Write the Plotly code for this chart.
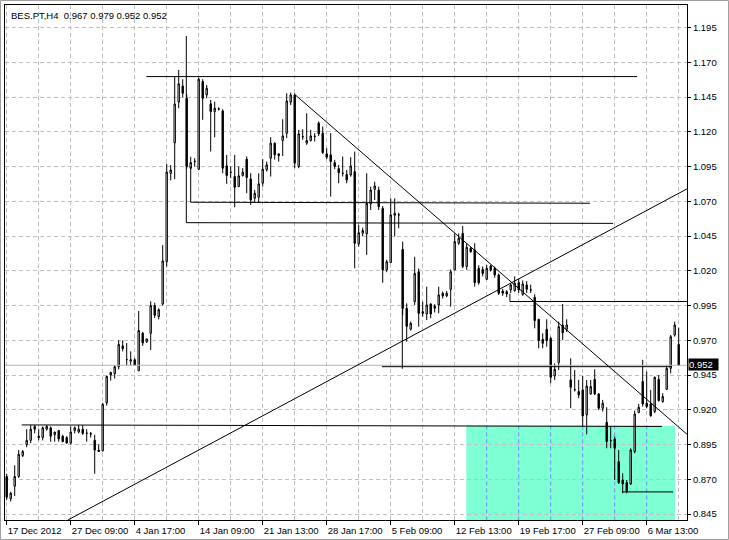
import plotly.graph_objects as go

# ---------------- data (H4 bars, BES.PT) ----------------
bar_index = list(range(169))
opens = [0.872,0.856,0.865,0.872,0.887,0.895,0.898,0.908,0.901,0.900,0.906,0.907,0.902,0.905,0.901,0.900,0.896,0.905,0.904,0.906,
         0.903,0.903,0.898,0.891,0.8905,0.925,0.945,0.946,0.951,0.966,0.956,0.955,0.956,0.948,0.975,0.969,0.975,0.995,0.987,0.996,
         1.0265,1.090,1.112,1.1413,1.1530,1.1441,1.0938,1.0985,1.0930,1.1561,1.1465,1.1401,1.1345,1.1365,1.1350,1.0955,1.0910,1.0878,1.0806,1.0885,
         1.1003,1.0861,1.0722,1.0729,1.0830,1.0926,1.1010,1.1118,1.1041,1.1137,1.1189,1.1413,1.1465,1.0950,1.1166,1.1118,1.1137,1.1166,1.1262,1.1190,
         1.1041,1.1034,1.0978,1.0935,1.0903,1.0894,1.0889,1.0913,1.0393,1.0470,1.0466,1.0681,1.0786,1.0781,1.0649,1.0206,1.0259,1.0599,1.0603,1.0354,
         0.9930,0.9780,0.9978,1.0193,0.9906,0.9889,0.9961,0.9945,0.9954,1.0038,1.0019,1.0066,1.0206,1.0398,1.0469,1.0230,1.0362,1.0350,1.0218,1.0210,
         1.0138,1.0235,1.0218,1.0170,1.0054,1.0050,1.0062,1.0057,1.0115,1.0030,1.0098,1.0063,1.0009,0.9851,0.9707,0.9779,0.9714,0.9443,0.9539,0.9810,
         0.9779,0.9415,0.9345,0.9331,0.9343,0.9163,0.9314,0.9419,0.9314,0.9211,0.9110,0.8979,0.8990,0.8827,0.8695,0.8676,0.8666,0.8899,0.9180,0.9403,
         0.9247,0.9242,0.9187,0.9419,0.9259,0.9347,0.9498,0.9738,0.967]
highs = [0.874,0.861,0.880,0.891,0.891,0.906,0.909,0.909,0.906,0.908,0.909,0.908,0.904,0.905,0.902,0.901,0.908,0.908,0.909,0.909,
         0.906,0.904,0.902,0.895,0.925,0.9445,0.947,0.952,0.970,0.970,0.968,0.962,0.957,0.991,0.976,0.971,0.998,0.997,0.993,1.0385,
         1.097,1.096,1.160,1.1645,1.1578,1.1470,1.1020,1.1010,1.1590,1.1578,1.1537,1.1429,1.1417,1.1376,1.1362,1.1034,1.0950,1.1034,1.0950,1.0938,
         1.1022,1.0902,1.0782,1.0902,1.1003,1.0986,1.1161,1.1122,1.1041,1.1290,1.1477,1.1482,1.1477,1.1214,1.1218,1.1333,1.1214,1.1190,1.1274,1.1238,
         1.1082,1.1190,1.0998,1.0962,1.1022,1.0925,1.1017,1.1057,1.0530,1.0510,1.0901,1.0805,1.0841,1.0805,1.0666,1.0280,1.0721,1.0721,1.0618,1.0410,
         0.9966,0.9835,1.0301,1.0217,0.9978,1.0086,0.9966,0.9960,1.0086,1.0050,1.0055,1.0210,1.0469,1.0469,1.0522,1.0398,1.0370,1.0398,1.0240,1.0230,
         1.0242,1.0242,1.0230,1.0181,1.0070,1.0060,1.0110,1.0160,1.0140,1.0130,1.0125,1.0100,1.0030,0.9851,0.9750,0.9851,0.9726,0.9534,0.9834,0.9961,
         0.9851,0.9570,0.9486,0.9415,0.9443,0.9415,0.9415,0.9491,0.9319,0.9271,0.9218,0.9079,0.9007,0.8911,0.8743,0.8695,0.8923,0.9194,0.9242,0.9559,
         0.9475,0.9343,0.9439,0.9450,0.9319,0.9522,0.9738,0.9834,0.979]
lows = [0.855,0.854,0.858,0.871,0.886,0.893,0.896,0.903,0.898,0.898,0.905,0.897,0.897,0.897,0.897,0.896,0.895,0.903,0.903,0.902,
        0.897,0.900,0.874,0.890,0.890,0.923,0.941,0.9425,0.949,0.962,0.952,0.952,0.952,0.948,0.966,0.968,0.963,0.986,0.985,0.995,
        1.023,1.085,1.086,1.1369,1.1448,1.0935,1.0931,1.0950,1.0925,1.1286,1.1441,1.1058,1.1160,1.1353,1.0902,1.0825,1.0866,1.0657,1.0801,1.0878,
        1.0758,1.0674,1.0693,1.0693,1.0806,1.0914,1.0878,1.1000,1.0985,1.1026,1.1154,1.1393,1.0938,1.0938,1.1142,1.1106,1.1130,1.1130,1.1170,1.1041,
        1.1003,1.0734,1.0931,1.0830,1.0878,1.0829,1.0877,1.0218,1.0374,1.0450,1.0314,1.0637,1.0709,1.0637,1.0114,1.0190,1.0254,1.0446,1.0506,0.9880,
        0.9690,0.9770,0.9954,0.9798,0.9870,0.9846,0.9858,0.9900,0.9894,1.0000,1.0010,0.9942,1.0206,1.0386,1.0218,1.0206,1.0330,1.0086,1.0100,1.0160,
        1.0134,1.0194,1.0150,1.0026,1.0020,1.0010,1.0040,1.0050,1.0040,1.0020,1.0040,1.0040,0.9786,0.9642,0.9642,0.9654,0.9391,0.9414,0.9486,0.9702,
        0.9760,0.9211,0.9331,0.9283,0.9079,0.9023,0.9307,0.9307,0.9199,0.9187,0.8923,0.8923,0.8695,0.8666,0.8599,0.8599,0.8659,0.8887,0.9175,0.9223,
        0.9211,0.9151,0.9175,0.9259,0.9251,0.9343,0.9462,0.9726,0.952]
closes = [0.857,0.860,0.872,0.888,0.890,0.898,0.906,0.906,0.900,0.907,0.908,0.901,0.904,0.899,0.897,0.896,0.904,0.907,0.906,0.903,
          0.9032,0.9025,0.891,0.890,0.924,0.944,0.947,0.951,0.967,0.964,0.9562,0.956,0.952,0.977,0.968,0.971,0.995,0.988,0.992,1.027,
          1.091,1.0925,1.140,1.1545,1.1477,1.0950,1.0979,1.0987,1.1578,1.1441,1.1513,1.1345,1.1369,1.1363,1.0938,1.0885,1.0908,1.0801,1.0883,1.0909,
          1.0871,1.0710,1.0758,1.0825,1.0931,1.0962,1.1118,1.1034,1.1029,1.1170,1.1422,1.1465,1.0974,1.1185,1.1163,1.1137,1.1170,1.1168,1.1185,1.1050,
          1.1017,1.0986,1.0950,1.0906,1.0901,1.0853,1.0954,1.0398,1.0474,1.0490,1.0685,1.0781,1.0810,1.0661,1.0206,1.0266,1.0602,1.0614,1.0601,0.9930,
          0.9800,0.9822,1.0181,0.9894,0.9894,0.9954,0.9889,0.9931,1.0026,1.0019,1.0038,1.0193,1.0410,1.0434,1.0230,1.0369,1.0337,1.0114,1.0114,1.0181,
          1.0218,1.0206,1.0170,1.0038,1.0038,1.0033,1.0098,1.0110,1.0062,1.0105,1.0067,1.0061,0.9841,0.9698,0.9678,0.9698,0.9434,0.9491,0.9798,0.9755,
          0.9810,0.9362,0.9343,0.9307,0.9156,0.9371,0.9367,0.9314,0.9211,0.9247,0.8971,0.8977,0.8923,0.8676,0.8666,0.8611,0.8911,0.9170,0.9218,0.9242,
          0.9223,0.9156,0.9434,0.9266,0.9295,0.9498,0.9726,0.9810,0.952]

# time-axis labels (one every 16 bars) and price-axis labels
time_tick_bars = [0, 16, 32, 48, 64, 80, 96, 112, 128, 144, 160]
time_tick_labels = ["17 Dec 2012", "27 Dec 09:00", "4 Jan 17:00", "14 Jan 09:00", "21 Jan 13:00",
                    "28 Jan 17:00", "5 Feb 09:00", "12 Feb 13:00", "19 Feb 17:00", "27 Feb 09:00", "6 Mar 13:00"]
grid_bars = [8, 24, 40, 56, 72, 88, 104, 120, 136, 152, 168]
price_ticks = [0.845, 0.870, 0.895, 0.920, 0.945, 0.970, 0.995, 1.020, 1.045, 1.070, 1.095, 1.120, 1.145, 1.170, 1.195]
price_labels = ["%.3f" % p for p in price_ticks]

symbol_title = "BES.PT,H4\u00a0\u00a00.967 0.979 0.952 0.952"
bid_price = 0.952
bid_label = "0.952"

# drawn objects: (bar0, price0, bar1, price1)
trend_lines = [
    (34.9, 1.1597, 157.6, 1.1597),
    (44.9, 1.1889, 44.9, 1.0546),
    (44.9, 1.0546, 151.6, 1.0541),
    (46.0, 1.0949, 46.0, 1.0693),
    (46.0, 1.0693, 145.8, 1.0686),
    (72.15, 1.1465, 170.07, 0.9024),
    (15.3, 0.8407, 170.07, 1.0789),
    (3.75, 0.9091, 163.8, 0.9080),
    (125.8, 1.0034, 125.8, 0.9979),
    (125.8, 0.9979, 170.07, 0.9979),
    (93.8, 0.9510, 166.3, 0.9510),
    (98.9, 1.0348, 98.9, 0.9495),
    (153.8, 0.8609, 166.6, 0.8609),
]
zone_rect = (114.9, 0.9085, 167.1, 0.80)

X_RANGE = [-0.425, 170.075]
Y_RANGE = [0.8407, 1.2112]
GRID = "#c0c0c0"
FONT = "Liberation Sans"
FS = 9.5

fig = go.Figure(go.Candlestick(
    x=bar_index, open=opens, high=highs, low=lows, close=closes,
    increasing=dict(line=dict(color="black", width=1), fillcolor="white"),
    decreasing=dict(line=dict(color="black", width=1), fillcolor="black"),
    whiskerwidth=0, hoverinfo="skip", showlegend=False,
))

shapes = []
shapes.append(dict(type="rect", xref="x", yref="y", x0=zone_rect[0], x1=zone_rect[2],
                   y0=zone_rect[1], y1=zone_rect[3], fillcolor="#7fffd4", line=dict(width=0), layer="below"))
for gb in time_tick_bars + grid_bars:
    if zone_rect[0] < gb < zone_rect[2]:
        shapes.append(dict(type="line", xref="x", yref="y", x0=gb, x1=gb, y0=zone_rect[3], y1=zone_rect[1],
                           line=dict(color="#5aa0ff", width=1, dash="4px,3px"), layer="between"))
shapes.append(dict(type="line", xref="paper", yref="y", x0=0, x1=1, y0=bid_price, y1=bid_price,
                   line=dict(color="#b4b4b4", width=1), layer="above"))
for (a0, p0, a1, p1) in trend_lines:
    shapes.append(dict(type="line", xref="x", yref="y", x0=a0, y0=p0, x1=a1, y1=p1,
                       line=dict(color="black", width=1), layer="above"))
# light window frame around the whole picture
shapes.append(dict(type="rect", xref="paper", yref="paper",
                   x0=-4.5 / 682, x1=(728.5 - 5) / 682, y0=(520 - 539.5) / 515, y1=(520 - 0.5) / 515,
                   line=dict(color="#a0a0a0", width=1), fillcolor="rgba(0,0,0,0)", layer="above"))

fig.update_layout(
    width=729, height=540,
    margin=dict(l=5, r=42, t=5, b=20, pad=0, autoexpand=False),
    paper_bgcolor="white", plot_bgcolor="white",
    showlegend=False, boxgap=0.5,
    shapes=shapes,
    font=dict(family=FONT, size=FS, color="black"),
    annotations=[
        dict(text=symbol_title, xref="paper", yref="paper", x=0, y=1, xanchor="left", yanchor="top",
             xshift=4, yshift=-3, showarrow=False, font=dict(family=FONT, size=FS, color="black")),
        dict(text=bid_label + "\u00a0\u00a0", xref="paper", yref="y", x=1, y=bid_price,
             xanchor="left", yanchor="middle", xshift=1, yshift=1, showarrow=False,
             bgcolor="black", borderpad=0, font=dict(family=FONT, size=FS, color="white")),
    ],
)
fig.update_xaxes(
    range=X_RANGE, rangeslider=dict(visible=False), automargin=False,
    tickmode="array", tickvals=time_tick_bars, ticktext=time_tick_labels, tickangle=0,
    ticks="outside", ticklen=4, tickcolor="black", ticklabelposition="outside right",
    ticklabelstandoff=2,
    tickfont=dict(family=FONT, size=FS, color="black"),
    showgrid=True, gridcolor=GRID, griddash="4px,3px", gridwidth=1,
    minor=dict(tickvals=grid_bars, showgrid=True, gridcolor=GRID, griddash="4px,3px", ticks=""),
    showline=True, linecolor="black", linewidth=1, mirror=True, zeroline=False,
)
fig.update_yaxes(
    range=Y_RANGE, side="right", automargin=False,
    tickmode="array", tickvals=price_ticks, ticktext=price_labels,
    ticks="outside", ticklen=3, tickcolor="black",
    tickfont=dict(family=FONT, size=FS, color="black"),
    showgrid=True, gridcolor=GRID, griddash="4px,3px", gridwidth=1,
    showline=True, linecolor="black", linewidth=1, mirror=True, zeroline=False,
)

fig.write_html("out.html", config={"displayModeBar": False},
               post_script="document.body.style.margin='0';document.body.style.overflow='hidden';")
